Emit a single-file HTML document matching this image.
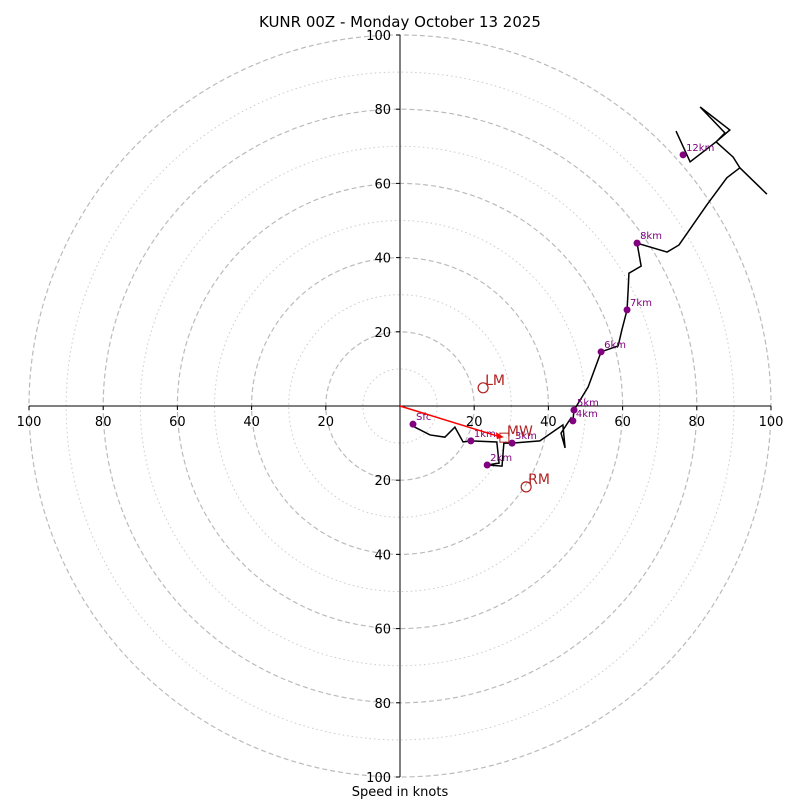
<!DOCTYPE html>
<html><head><meta charset="utf-8"><style>
body{margin:0;background:#fff;}
svg{display:block;font-family:"DejaVu Sans","Liberation Sans",sans-serif;}
</style></head><body>
<svg id="c" width="800" height="800" viewBox="0 0 800 800"></svg>
<script>
const traceU=[3.5,4.0,8.1,12.1,14.8,17.0,19.1,26.1,26.7,23.5,27.5,28.0,30.2,37.7,39.6,43.9,44.5,43.4,46.1,46.6,46.9,50.7,54.2,58.8,59.8,61.2,61.5,61.7,65.0,63.9,72.0,75.2,82.7,88.1,91.6,98.9,91.6,89.8,85.2,88.9,80.9,87.6,85.2,78.2,74.4];
const traceV=[-4.9,-5.7,-7.8,-8.4,-5.7,-9.7,-9.4,-9.7,-15.4,-15.9,-16.2,-10.0,-10.0,-9.4,-8.1,-5.1,-11.3,-7.3,-3.2,-4.0,-1.1,5.1,14.6,16.2,20.5,25.9,31.3,35.8,37.7,43.9,41.5,43.4,54.2,61.5,64.2,57.1,64.2,67.1,71.2,74.4,80.6,73.6,71.2,65.8,74.1];
const markLabels=["Sfc","1km","2km","3km","4km","5km","6km","7km","8km","12km"];
const markU=[3.5,19.1,23.5,30.2,46.6,46.9,54.2,61.2,63.9,76.3];
const markV=[-4.9,-9.4,-15.9,-10.0,-4.0,-1.1,14.6,25.9,43.9,67.7];
const ringVals=[10,20,30,40,50,60,70,80,90,100];
const tickVals=[20,40,60,80,100];
const lmU=22.4, lmV=4.9, rmU=34.0, rmV=-21.8, mwU=28.0, mwV=-8.4;

const cx=400, cy=406, s=3.71;
const X=u=>cx+u*s, Y=v=>cy-v*s;
const svg=document.getElementById('c');
const NS='http://www.w3.org/2000/svg';
function mk(t,a,txt){const e=document.createElementNS(NS,t);for(const k in a)e.setAttribute(k,a[k]);if(txt!==undefined)e.textContent=txt;svg.appendChild(e);return e;}

ringVals.forEach(r=>{
  const dashed=r%20===0;
  const e=mk('circle',{cx:cx,cy:cy,r:r*s,fill:'none',stroke:dashed?'#bbb':'#ccc','stroke-width':dashed?1.2:1,'stroke-dasharray':dashed?'5,3':'1.5,3'});
  
  
});
let e=mk('line',{x1:X(-100),y1:cy,x2:X(100),y2:cy,stroke:'#000','stroke-width':1});

e=mk('line',{x1:cx,y1:Y(100),x2:cx,y2:Y(-100),stroke:'#000','stroke-width':1});

tickVals.forEach(t=>{
  [-1,1].forEach(sg=>{
    mk('line',{x1:X(sg*t),y1:cy,x2:X(sg*t),y2:cy+4,stroke:'#000'});
    const l=mk('text',{x:X(sg*t),y:cy+20,'text-anchor':'middle','font-size':13},String(t));
    
    mk('line',{x1:cx-4,y1:Y(sg*t),x2:cx,y2:Y(sg*t),stroke:'#000'});
    const m=mk('text',{x:cx-9,y:Y(sg*t)+5,'text-anchor':'end','font-size':13},String(t));
    
  });
});
e=mk('polyline',{points:traceU.map((u,i)=>X(u)+','+Y(traceV[i])).join(' '),fill:'none',stroke:'#000','stroke-width':1.5,'stroke-linejoin':'miter'});

markLabels.forEach((lb,i)=>{
  const d=mk('circle',{cx:X(markU[i]),cy:Y(markV[i]),r:3.5,fill:'#800080'});
  
  const t=mk('text',{x:X(markU[i])+3,y:Y(markV[i])-4,'font-size':10,fill:'#800080'},lb);
  
});
e=mk('line',{x1:cx,y1:cy,x2:X(mwU)-6,y2:Y(mwV)-1,stroke:'red','stroke-width':1.5});

mk('polygon',{points:`${X(mwU)},${Y(mwV)} ${X(mwU)-8},${Y(mwV)-5} ${X(mwU)-7},${Y(mwV)+2}`,fill:'red'});
e=mk('rect',{x:X(mwU)-4,y:Y(mwV)-4,width:9,height:9,fill:'none',stroke:'#b22222','stroke-width':1});

e=mk('text',{x:X(mwU)+3,y:Y(mwV)-1,'font-size':14,fill:'#b22222'},'MW');

[[lmU,lmV,'LM'],[rmU,rmV,'RM']].forEach(([u,v,n])=>{
  const c=mk('circle',{cx:X(u),cy:Y(v),r:5,fill:'none',stroke:'#b22222','stroke-width':1.2});
  
  const t=mk('text',{x:X(u)+2,y:Y(v)-3,'font-size':14,fill:'#b22222'},n);
  
});
e=mk('text',{x:400,y:27,'text-anchor':'middle','font-size':15},'KUNR 00Z - Monday October 13 2025');

e=mk('text',{x:400,y:796,'text-anchor':'middle','font-size':13},'Speed in knots');

</script>
</body></html>
